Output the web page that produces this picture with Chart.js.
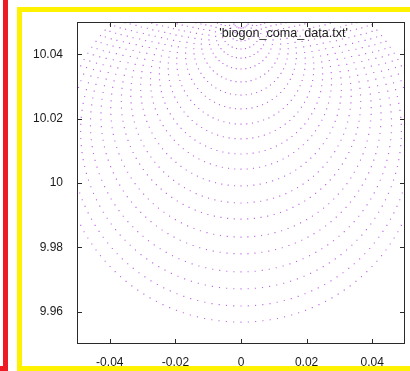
<!DOCTYPE html>
<html>
<head>
<meta charset="utf-8">
<script src="https://cdn.jsdelivr.net/npm/chart.js@4/dist/chart.umd.min.js"></script>
<style>
  html, body { margin: 0; padding: 0; background: #fff; overflow: hidden; }
  #wrap { position: relative; width: 410px; height: 371px; }
  #plot { position: absolute; left: 0; top: 0; }
  .mark { position: absolute; box-sizing: border-box; pointer-events: none; }
  #red { left: -30px; top: -10px; width: 38px; height: 381px; border: 5px solid #ed1c24; }
  #yellow { left: 17px; top: 7px; width: 420px; height: 364px; border: 5px solid #fff200; }
</style>
</head>
<body>
<div id="wrap">
  <canvas id="plot" width="410" height="371"></canvas>
  <div class="mark" id="red"></div>
  <div class="mark" id="yellow"></div>
</div>
<script>
// rings of the coma spot: lowest y of each ring and its radius
const ringBottom = [10.0481, 10.0463, 10.0441, 10.0416, 10.0388, 10.0354, 10.0314, 10.0273,
  10.0230, 10.0183, 10.0137, 10.0090, 10.0043, 9.9991, 9.9938, 9.9888, 9.9832, 9.9780,
  9.9724, 9.9671, 9.9618, 9.9568];
const ringRadius = [0.0025, 0.0036, 0.0048, 0.0062, 0.0078, 0.0098, 0.0121, 0.0144,
  0.0169, 0.0196, 0.0222, 0.0249, 0.0276, 0.0306, 0.0336, 0.0365, 0.0397, 0.0427,
  0.0459, 0.0489, 0.0520, 0.0548];
const ringDots = [24, 24, 24, 28, 35, 42, 49, 56, 63, 70, 77, 84, 91, 98, 105, 112, 119,
  126, 133, 140, 147, 154];
const xTicks = [-0.04, -0.02, 0, 0.02, 0.04];
const yTicks = [9.96, 9.98, 10, 10.02, 10.04];
const seriesName = "'biogon_coma_data.txt'";

const points = [];
ringBottom.forEach((b, k) => {
  const r = ringRadius[k], yc = b + r;
  for (let j = 0; j < ringDots[k]; j++) {
    const t = 2 * Math.PI * j / ringDots[k];
    points.push({ x: r * Math.sin(t), y: yc - r * Math.cos(t) });
  }
});

const fmt = v => String(+v.toFixed(2));
const tickFont = { family: "Liberation Sans", size: 12 };

// gnuplot style frame with inward, mirrored ticks and key
const gnuFrame = {
  id: "gnuFrame",
  afterDatasetsDraw(chart) {
    const { ctx, chartArea: a, scales } = chart;
    ctx.save();
    ctx.strokeStyle = "#2a2a2a";
    ctx.lineWidth = 1;
    ctx.beginPath();
    xTicks.forEach(v => {
      const px = Math.round(scales.x.getPixelForValue(v)) + 0.5;
      ctx.moveTo(px, a.bottom); ctx.lineTo(px, a.bottom - 5);
      ctx.moveTo(px, a.top); ctx.lineTo(px, a.top + 5);
    });
    yTicks.forEach(v => {
      const py = Math.round(scales.y.getPixelForValue(v)) + 0.5;
      ctx.moveTo(a.left, py); ctx.lineTo(a.left + 5, py);
      ctx.moveTo(a.right, py); ctx.lineTo(a.right - 5, py);
    });
    ctx.stroke();
    ctx.strokeRect(Math.round(a.left) + 0.5, Math.round(a.top) + 0.5,
      Math.round(a.right - a.left) - 1, Math.round(a.bottom - a.top) - 1);
    ctx.fillStyle = "#1a1a1a";
    ctx.font = '12.6px "Liberation Sans"';
    ctx.textAlign = "right";
    ctx.textBaseline = "middle";
    ctx.fillText(seriesName, 348, 34);
    ctx.restore();
  }
};

new Chart(document.getElementById("plot"), {
  type: "scatter",
  data: {
    datasets: [{
      label: seriesName,
      data: points,
      pointStyle: "rect",
      pointRadius: 0.8,
      borderWidth: 0,
      backgroundColor: "rgba(148, 0, 211, 0.6)",
      clip: 0
    }]
  },
  options: {
    responsive: false,
    animation: false,
    layout: { padding: { left: 0, top: 22, right: 5, bottom: 0 } },
    plugins: { legend: { display: false }, tooltip: { enabled: false } },
    scales: {
      x: {
        min: -0.05,
        max: 0.05,
        afterBuildTicks: s => { s.ticks = xTicks.map(v => ({ value: v })); },
        afterFit: s => { s.height = 27; },
        grid: { display: false },
        border: { display: false },
        ticks: { callback: fmt, font: tickFont, color: "#1a1a1a", padding: 3, maxRotation: 0, autoSkip: false }
      },
      y: {
        min: 9.95,
        max: 10.05,
        afterBuildTicks: s => { s.ticks = yTicks.map(v => ({ value: v })); },
        afterFit: s => { s.width = 77; },
        grid: { display: false },
        border: { display: false },
        ticks: { callback: fmt, font: tickFont, color: "#1a1a1a", padding: 6, autoSkip: false }
      }
    }
  },
  plugins: [gnuFrame]
});
</script>
</body>
</html>
